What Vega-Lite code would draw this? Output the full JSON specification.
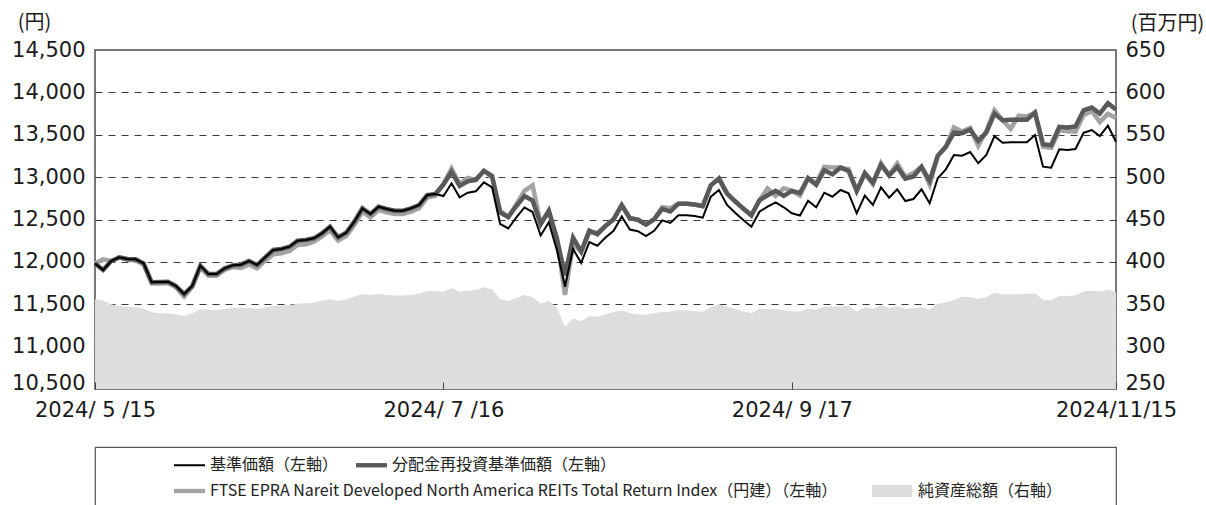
{
  "$schema": "https://vega.github.io/schema/vega-lite/v6.json",
  "padding": {"left": 10, "top": 11, "right": 0, "bottom": 0},
  "autosize": {"type": "pad"},
  "background": "white",
  "bounds": "flush",
  "spacing": 58,
  "datasets": {
    "d": [
      {"date":"2024-05-15","kijun":11980,"bunpai":11980,"ftse":11980,"aum":356},
      {"date":"2024-05-16","kijun":11904,"bunpai":11904,"ftse":12030,"aum":354},
      {"date":"2024-05-17","kijun":12010,"bunpai":12010,"ftse":12010,"aum":350},
      {"date":"2024-05-20","kijun":12054,"bunpai":12054,"ftse":12050,"aum":348},
      {"date":"2024-05-21","kijun":12034,"bunpai":12034,"ftse":12025,"aum":347},
      {"date":"2024-05-22","kijun":12030,"bunpai":12030,"ftse":12020,"aum":346.5},
      {"date":"2024-05-23","kijun":11983,"bunpai":11983,"ftse":11970,"aum":345},
      {"date":"2024-05-24","kijun":11759,"bunpai":11759,"ftse":11745,"aum":340.5},
      {"date":"2024-05-27","kijun":11762,"bunpai":11762,"ftse":11745,"aum":339.5},
      {"date":"2024-05-28","kijun":11766,"bunpai":11766,"ftse":11750,"aum":339.3},
      {"date":"2024-05-29","kijun":11715,"bunpai":11715,"ftse":11700,"aum":338},
      {"date":"2024-05-30","kijun":11621,"bunpai":11621,"ftse":11590,"aum":336.5},
      {"date":"2024-05-31","kijun":11715,"bunpai":11715,"ftse":11705,"aum":339.3},
      {"date":"2024-06-03","kijun":11955,"bunpai":11955,"ftse":11935,"aum":344},
      {"date":"2024-06-04","kijun":11857,"bunpai":11857,"ftse":11837,"aum":343.5},
      {"date":"2024-06-05","kijun":11857,"bunpai":11857,"ftse":11837,"aum":343.2},
      {"date":"2024-06-06","kijun":11924,"bunpai":11924,"ftse":11904,"aum":344.5},
      {"date":"2024-06-07","kijun":11959,"bunpai":11959,"ftse":11939,"aum":345.8},
      {"date":"2024-06-10","kijun":11967,"bunpai":11967,"ftse":11927,"aum":346},
      {"date":"2024-06-11","kijun":12010,"bunpai":12010,"ftse":11970,"aum":346},
      {"date":"2024-06-12","kijun":11963,"bunpai":11963,"ftse":11923,"aum":344.4},
      {"date":"2024-06-13","kijun":12054,"bunpai":12054,"ftse":12014,"aum":346.5},
      {"date":"2024-06-14","kijun":12140,"bunpai":12140,"ftse":12090,"aum":348},
      {"date":"2024-06-17","kijun":12152,"bunpai":12152,"ftse":12102,"aum":348.5},
      {"date":"2024-06-18","kijun":12179,"bunpai":12179,"ftse":12129,"aum":349.2},
      {"date":"2024-06-19","kijun":12250,"bunpai":12250,"ftse":12200,"aum":350.6},
      {"date":"2024-06-20","kijun":12258,"bunpai":12258,"ftse":12208,"aum":351.3},
      {"date":"2024-06-21","kijun":12278,"bunpai":12278,"ftse":12238,"aum":351.8},
      {"date":"2024-06-24","kijun":12337,"bunpai":12337,"ftse":12297,"aum":354},
      {"date":"2024-06-25","kijun":12415,"bunpai":12415,"ftse":12375,"aum":355.8},
      {"date":"2024-06-26","kijun":12290,"bunpai":12290,"ftse":12250,"aum":353.8},
      {"date":"2024-06-27","kijun":12344,"bunpai":12344,"ftse":12304,"aum":356},
      {"date":"2024-06-28","kijun":12474,"bunpai":12474,"ftse":12434,"aum":359},
      {"date":"2024-07-01","kijun":12632,"bunpai":12632,"ftse":12592,"aum":362},
      {"date":"2024-07-02","kijun":12565,"bunpai":12565,"ftse":12525,"aum":361},
      {"date":"2024-07-03","kijun":12651,"bunpai":12651,"ftse":12611,"aum":362.4},
      {"date":"2024-07-04","kijun":12624,"bunpai":12624,"ftse":12584,"aum":361},
      {"date":"2024-07-05","kijun":12604,"bunpai":12604,"ftse":12564,"aum":360.3},
      {"date":"2024-07-08","kijun":12604,"bunpai":12604,"ftse":12564,"aum":360.4},
      {"date":"2024-07-09","kijun":12632,"bunpai":12632,"ftse":12592,"aum":360.8},
      {"date":"2024-07-10","kijun":12671,"bunpai":12671,"ftse":12631,"aum":362.5},
      {"date":"2024-07-11","kijun":12789,"bunpai":12789,"ftse":12760,"aum":365.5},
      {"date":"2024-07-12","kijun":12801,"bunpai":12801,"ftse":12780,"aum":365.2},
      {"date":"2024-07-16","kijun":12777,"bunpai":12912,"ftse":12922,"aum":365},
      {"date":"2024-07-17","kijun":12927,"bunpai":13062,"ftse":13102,"aum":368.8},
      {"date":"2024-07-18","kijun":12762,"bunpai":12897,"ftse":12922,"aum":364.8},
      {"date":"2024-07-19","kijun":12816,"bunpai":12951,"ftse":12991,"aum":365.8},
      {"date":"2024-07-22","kijun":12833,"bunpai":12968,"ftse":12968,"aum":366.8},
      {"date":"2024-07-23","kijun":12939,"bunpai":13074,"ftse":13074,"aum":370},
      {"date":"2024-07-24","kijun":12880,"bunpai":13015,"ftse":12995,"aum":367.7},
      {"date":"2024-07-25","kijun":12447,"bunpai":12582,"ftse":12602,"aum":356},
      {"date":"2024-07-26","kijun":12394,"bunpai":12529,"ftse":12529,"aum":353.8},
      {"date":"2024-07-29","kijun":12524,"bunpai":12659,"ftse":12679,"aum":357.5},
      {"date":"2024-07-30","kijun":12642,"bunpai":12777,"ftse":12837,"aum":360.8},
      {"date":"2024-07-31","kijun":12588,"bunpai":12723,"ftse":12903,"aum":358.5},
      {"date":"2024-08-01","kijun":12311,"bunpai":12446,"ftse":12446,"aum":350.5},
      {"date":"2024-08-02","kijun":12468,"bunpai":12603,"ftse":12603,"aum":354},
      {"date":"2024-08-05","kijun":12140,"bunpai":12275,"ftse":12275,"aum":346},
      {"date":"2024-08-06","kijun":11707,"bunpai":11842,"ftse":11609,"aum":323.5},
      {"date":"2024-08-07","kijun":12152,"bunpai":12287,"ftse":12207,"aum":333.4},
      {"date":"2024-08-08","kijun":11987,"bunpai":12122,"ftse":12122,"aum":330},
      {"date":"2024-08-09","kijun":12234,"bunpai":12369,"ftse":12349,"aum":336},
      {"date":"2024-08-13","kijun":12191,"bunpai":12326,"ftse":12346,"aum":335.3},
      {"date":"2024-08-14","kijun":12288,"bunpai":12423,"ftse":12423,"aum":338},
      {"date":"2024-08-15","kijun":12367,"bunpai":12502,"ftse":12502,"aum":341},
      {"date":"2024-08-16","kijun":12535,"bunpai":12670,"ftse":12670,"aum":343},
      {"date":"2024-08-19","kijun":12381,"bunpai":12516,"ftse":12516,"aum":339.3},
      {"date":"2024-08-20","kijun":12362,"bunpai":12497,"ftse":12497,"aum":338.2},
      {"date":"2024-08-21","kijun":12305,"bunpai":12440,"ftse":12440,"aum":337.5},
      {"date":"2024-08-22","kijun":12367,"bunpai":12502,"ftse":12502,"aum":339.5},
      {"date":"2024-08-23","kijun":12490,"bunpai":12625,"ftse":12645,"aum":341.2},
      {"date":"2024-08-26","kijun":12459,"bunpai":12594,"ftse":12634,"aum":341.2},
      {"date":"2024-08-27","kijun":12551,"bunpai":12686,"ftse":12686,"aum":343.2},
      {"date":"2024-08-28","kijun":12550,"bunpai":12685,"ftse":12685,"aum":342.5},
      {"date":"2024-08-29","kijun":12541,"bunpai":12676,"ftse":12676,"aum":341.8},
      {"date":"2024-08-30","kijun":12521,"bunpai":12656,"ftse":12656,"aum":341.2},
      {"date":"2024-09-02","kijun":12769,"bunpai":12904,"ftse":12904,"aum":346.4},
      {"date":"2024-09-03","kijun":12848,"bunpai":12983,"ftse":12983,"aum":350},
      {"date":"2024-09-04","kijun":12671,"bunpai":12806,"ftse":12806,"aum":347},
      {"date":"2024-09-05","kijun":12580,"bunpai":12715,"ftse":12715,"aum":344.6},
      {"date":"2024-09-06","kijun":12494,"bunpai":12629,"ftse":12629,"aum":341.6},
      {"date":"2024-09-09","kijun":12415,"bunpai":12550,"ftse":12550,"aum":339.8},
      {"date":"2024-09-10","kijun":12592,"bunpai":12727,"ftse":12727,"aum":344.4},
      {"date":"2024-09-11","kijun":12651,"bunpai":12786,"ftse":12866,"aum":344.4},
      {"date":"2024-09-12","kijun":12703,"bunpai":12838,"ftse":12778,"aum":344.4},
      {"date":"2024-09-13","kijun":12644,"bunpai":12779,"ftse":12869,"aum":342.8},
      {"date":"2024-09-17","kijun":12573,"bunpai":12838,"ftse":12838,"aum":341.6},
      {"date":"2024-09-18","kijun":12547,"bunpai":12812,"ftse":12782,"aum":341.5},
      {"date":"2024-09-19","kijun":12722,"bunpai":12987,"ftse":12987,"aum":345},
      {"date":"2024-09-20","kijun":12644,"bunpai":12909,"ftse":12929,"aum":343.5},
      {"date":"2024-09-24","kijun":12816,"bunpai":13081,"ftse":13121,"aum":347.1},
      {"date":"2024-09-25","kijun":12769,"bunpai":13034,"ftse":13114,"aum":347.4},
      {"date":"2024-09-26","kijun":12848,"bunpai":13113,"ftse":13113,"aum":347.7},
      {"date":"2024-09-27","kijun":12809,"bunpai":13074,"ftse":13094,"aum":348},
      {"date":"2024-09-30","kijun":12573,"bunpai":12838,"ftse":12838,"aum":341.2},
      {"date":"2024-10-01","kijun":12781,"bunpai":13046,"ftse":13046,"aum":346.4},
      {"date":"2024-10-02","kijun":12671,"bunpai":12936,"ftse":12916,"aum":344.8},
      {"date":"2024-10-03","kijun":12880,"bunpai":13145,"ftse":13165,"aum":348.6},
      {"date":"2024-10-04","kijun":12757,"bunpai":13022,"ftse":13022,"aum":345.6},
      {"date":"2024-10-07","kijun":12856,"bunpai":13121,"ftse":13161,"aum":347.5},
      {"date":"2024-10-08","kijun":12718,"bunpai":12983,"ftse":13003,"aum":344.4},
      {"date":"2024-10-09","kijun":12742,"bunpai":13007,"ftse":13047,"aum":345.4},
      {"date":"2024-10-10","kijun":12856,"bunpai":13121,"ftse":13121,"aum":346.4},
      {"date":"2024-10-11","kijun":12691,"bunpai":12956,"ftse":12911,"aum":343.4},
      {"date":"2024-10-15","kijun":12986,"bunpai":13251,"ftse":13251,"aum":350.3},
      {"date":"2024-10-16","kijun":13092,"bunpai":13357,"ftse":13357,"aum":352.4},
      {"date":"2024-10-17","kijun":13261,"bunpai":13526,"ftse":13586,"aum":355},
      {"date":"2024-10-18","kijun":13253,"bunpai":13518,"ftse":13538,"aum":358.9},
      {"date":"2024-10-21","kijun":13296,"bunpai":13561,"ftse":13581,"aum":358.6},
      {"date":"2024-10-22","kijun":13163,"bunpai":13428,"ftse":13368,"aum":356.3},
      {"date":"2024-10-23","kijun":13261,"bunpai":13526,"ftse":13546,"aum":358.5},
      {"date":"2024-10-24","kijun":13485,"bunpai":13750,"ftse":13790,"aum":363.5},
      {"date":"2024-10-25","kijun":13406,"bunpai":13671,"ftse":13671,"aum":361.7},
      {"date":"2024-10-28","kijun":13411,"bunpai":13676,"ftse":13571,"aum":361.8},
      {"date":"2024-10-29","kijun":13411,"bunpai":13676,"ftse":13726,"aum":361.9},
      {"date":"2024-10-30","kijun":13411,"bunpai":13676,"ftse":13716,"aum":362.3},
      {"date":"2024-10-31","kijun":13497,"bunpai":13762,"ftse":13762,"aum":363},
      {"date":"2024-11-01","kijun":13123,"bunpai":13388,"ftse":13358,"aum":355},
      {"date":"2024-11-05","kijun":13111,"bunpai":13376,"ftse":13346,"aum":354.6},
      {"date":"2024-11-06","kijun":13328,"bunpai":13593,"ftse":13553,"aum":359.7},
      {"date":"2024-11-07","kijun":13320,"bunpai":13585,"ftse":13540,"aum":359.7},
      {"date":"2024-11-08","kijun":13332,"bunpai":13597,"ftse":13537,"aum":360.5},
      {"date":"2024-11-11","kijun":13524,"bunpai":13789,"ftse":13729,"aum":364.9},
      {"date":"2024-11-12","kijun":13556,"bunpai":13821,"ftse":13781,"aum":365.9},
      {"date":"2024-11-13","kijun":13485,"bunpai":13750,"ftse":13650,"aum":365},
      {"date":"2024-11-14","kijun":13607,"bunpai":13872,"ftse":13747,"aum":367.3},
      {"date":"2024-11-15","kijun":13418,"bunpai":13798,"ftse":13698,"aum":364.1}
    ]
  },
  "vconcat": [
    {
      "width": 1021,
      "height": 339,
      "data": {"name": "d"},
      "view": {"stroke": "#4d4d4d", "strokeWidth": 1.5},
      "encoding": {
        "x": {
          "field": "date",
          "type": "ordinal",
          "scale": {"type": "point", "padding": 0},
          "axis": {
            "values": ["2024-05-15", "2024-07-16", "2024-09-17", "2024-11-15"],
            "labelExpr": "datum.value == '2024-05-15' ? '2024/ 5 /15' : datum.value == '2024-07-16' ? '2024/ 7 /16' : datum.value == '2024-09-17' ? '2024/ 9 /17' : '2024/11/15'",
            "labelAngle": 0,
            "labelOverlap": false,
            "labelFlush": false,
            "ticks": true,
            "tickSize": -7,
            "tickColor": "#444444",
            "tickWidth": 1,
            "domain": false,
            "grid": false,
            "labelPadding": 17,
            "zindex": 1,
            "title": null
          }
        }
      },
      "layer": [
        {
          "mark": {"type": "area", "clip": true},
          "encoding": {
            "y": {
              "field": "aum",
              "type": "quantitative",
              "scale": {"domain": [250, 650], "zero": false, "nice": false},
              "axis": {
                "orient": "right",
                "values": [250, 300, 350, 400, 450, 500, 550, 600, 650],
                "ticks": false,
                "domain": false,
                "grid": false,
                "labelPadding": 9,
                "labelBaseline": {"condition": {"test": "datum.value == 250", "value": "alphabetic"}, "value": "middle"},
                "title": "(百万円)",
                "titleAngle": 0,
                "titleX": 51,
                "titleY": -27,
                "titleAlign": "center",
                "titleBaseline": "middle"
              }
            },
            "fill": {
              "datum": "純資産総額（右軸）",
              "type": "nominal",
              "scale": {"domain": ["純資産総額（右軸）"], "range": ["#dcdddd"]},
              "legend": {
                "orient": "none",
                "legendX": 777,
                "legendY": 421,
                "symbolSize": 1600,
                "labelOffset": 6,
                "labelFont": "Noto Sans CJK JP",
                "labelFontSize": 16,
                "labelColor": "#222222",
                "labelLimit": 1000,
                "title": null,
                "padding": 0,
                "encode": {
                  "symbols": {
                    "update": {
                      "shape": {"value": "M-1,-0.3H1V0.3H-1Z"},
                      "size": {"value": 1600},
                      "fill": {"value": "#dcdddd"},
                      "stroke": {"value": "transparent"},
                      "strokeWidth": {"value": 0},
                      "opacity": {"value": 1},
                      "fillOpacity": {"value": 1}
                    }
                  }
                }
              }
            }
          }
        },
        {
          "layer": [
            {
              "mark": {"type": "line", "strokeWidth": 4.5},
              "encoding": {
                "y": {
                  "field": "ftse",
                  "type": "quantitative",
                  "scale": {"domain": [10500, 14500], "zero": false, "nice": false},
                  "axis": {
                    "orient": "left",
                    "values": [10500, 11000, 11500, 12000, 12500, 13000, 13500, 14000, 14500],
                    "labelExpr": "format(datum.value, ',.0f')",
                    "labelBaseline": {"condition": {"test": "datum.value == 10500", "value": "alphabetic"}, "value": "middle"},
                    "ticks": false,
                    "domain": false,
                    "grid": true,
                    "gridColor": "#3a3a3a",
                    "gridDash": [7, 6],
                    "gridWidth": 1,
                    "gridOpacity": {"condition": {"test": "datum.value == 10500 || datum.value == 14500", "value": 0}, "value": 1},
                    "labelPadding": 10,
                    "title": "(円)",
                    "titleAngle": 0,
                    "titleX": -61,
                    "titleY": -28,
                    "titleAlign": "center",
                    "titleBaseline": "middle"
                  }
                },
                "stroke": {
                  "datum": "FTSE EPRA Nareit Developed North America REITs Total Return Index（円建）（左軸）",
                  "type": "nominal",
                  "scale": {"domain": ["FTSE EPRA Nareit Developed North America REITs Total Return Index（円建）（左軸）"], "range": ["#a3a3a3"]},
                  "legend": {
                    "orient": "none",
                    "legendX": 79,
                    "legendY": 425.5,
                    "labelOffset": 5,
                    "labelFont": "Noto Sans CJK JP",
                    "labelFontSize": 16,
                    "labelColor": "#222222",
                    "labelLimit": 1000,
                    "title": null,
                    "padding": 0,
                    "encode": {
                      "symbols": {
                        "update": {
                          "shape": {"value": "M-1,-0.14H1V0.14H-1Z"},
                          "size": {"value": 961},
                          "fill": {"value": "#a3a3a3"},
                          "stroke": {"value": "transparent"},
                          "strokeWidth": {"value": 0},
                          "opacity": {"value": 1},
                          "fillOpacity": {"value": 1}
                        }
                      }
                    }
                  }
                }
              }
            },
            {
              "mark": {"type": "line", "strokeWidth": 4.5},
              "encoding": {
                "y": {"field": "bunpai", "type": "quantitative", "scale": {"domain": [10500, 14500], "zero": false, "nice": false}},
                "color": {
                  "datum": "分配金再投資基準価額（左軸）",
                  "type": "nominal",
                  "scale": {"domain": ["基準価額（左軸）", "分配金再投資基準価額（左軸）"], "range": ["#000000", "#595959"]},
                  "legend": {
                    "orient": "none",
                    "legendX": 79,
                    "legendY": 399.5,
                    "direction": "horizontal",
                    "columnPadding": 17,
                    "labelOffset": 5,
                    "labelFont": "Noto Sans CJK JP",
                    "labelFontSize": 16,
                    "labelColor": "#222222",
                    "labelLimit": 1000,
                    "title": null,
                    "padding": 0,
                    "encode": {
                      "symbols": {
                        "update": {
                          "shape": {"signal": "datum.value === '基準価額（左軸）' ? 'M-1,-0.065H1V0.065H-1Z' : 'M-1,-0.14H1V0.14H-1Z'"},
                          "size": {"value": 961},
                          "fill": {"signal": "scale('color', datum.value)"},
                          "stroke": {"value": "transparent"},
                          "strokeWidth": {"value": 0},
                          "opacity": {"value": 1},
                          "fillOpacity": {"value": 1}
                        }
                      }
                    }
                  }
                }
              }
            },
            {
              "mark": {"type": "line", "strokeWidth": 2},
              "encoding": {
                "y": {"field": "kijun", "type": "quantitative", "scale": {"domain": [10500, 14500], "zero": false, "nice": false}},
                "color": {"datum": "基準価額（左軸）", "type": "nominal"}
              }
            }
          ]
        }
      ],
      "resolve": {"scale": {"y": "independent"}}
    },
    {
      "width": 1021,
      "height": 80,
      "data": {"values": []},
      "view": {"stroke": "#555555", "strokeWidth": 1.2},
      "mark": {"type": "point", "opacity": 0}
    }
  ],
  "config": {
    "axis": {
      "labelFont": "DejaVu Sans",
      "labelFontSize": 21,
      "labelColor": "#1a1a1a",
      "titleFont": "Noto Sans CJK JP",
      "titleFontSize": 20,
      "titleFontWeight": "normal",
      "titleColor": "#1a1a1a"
    }
  }
}
